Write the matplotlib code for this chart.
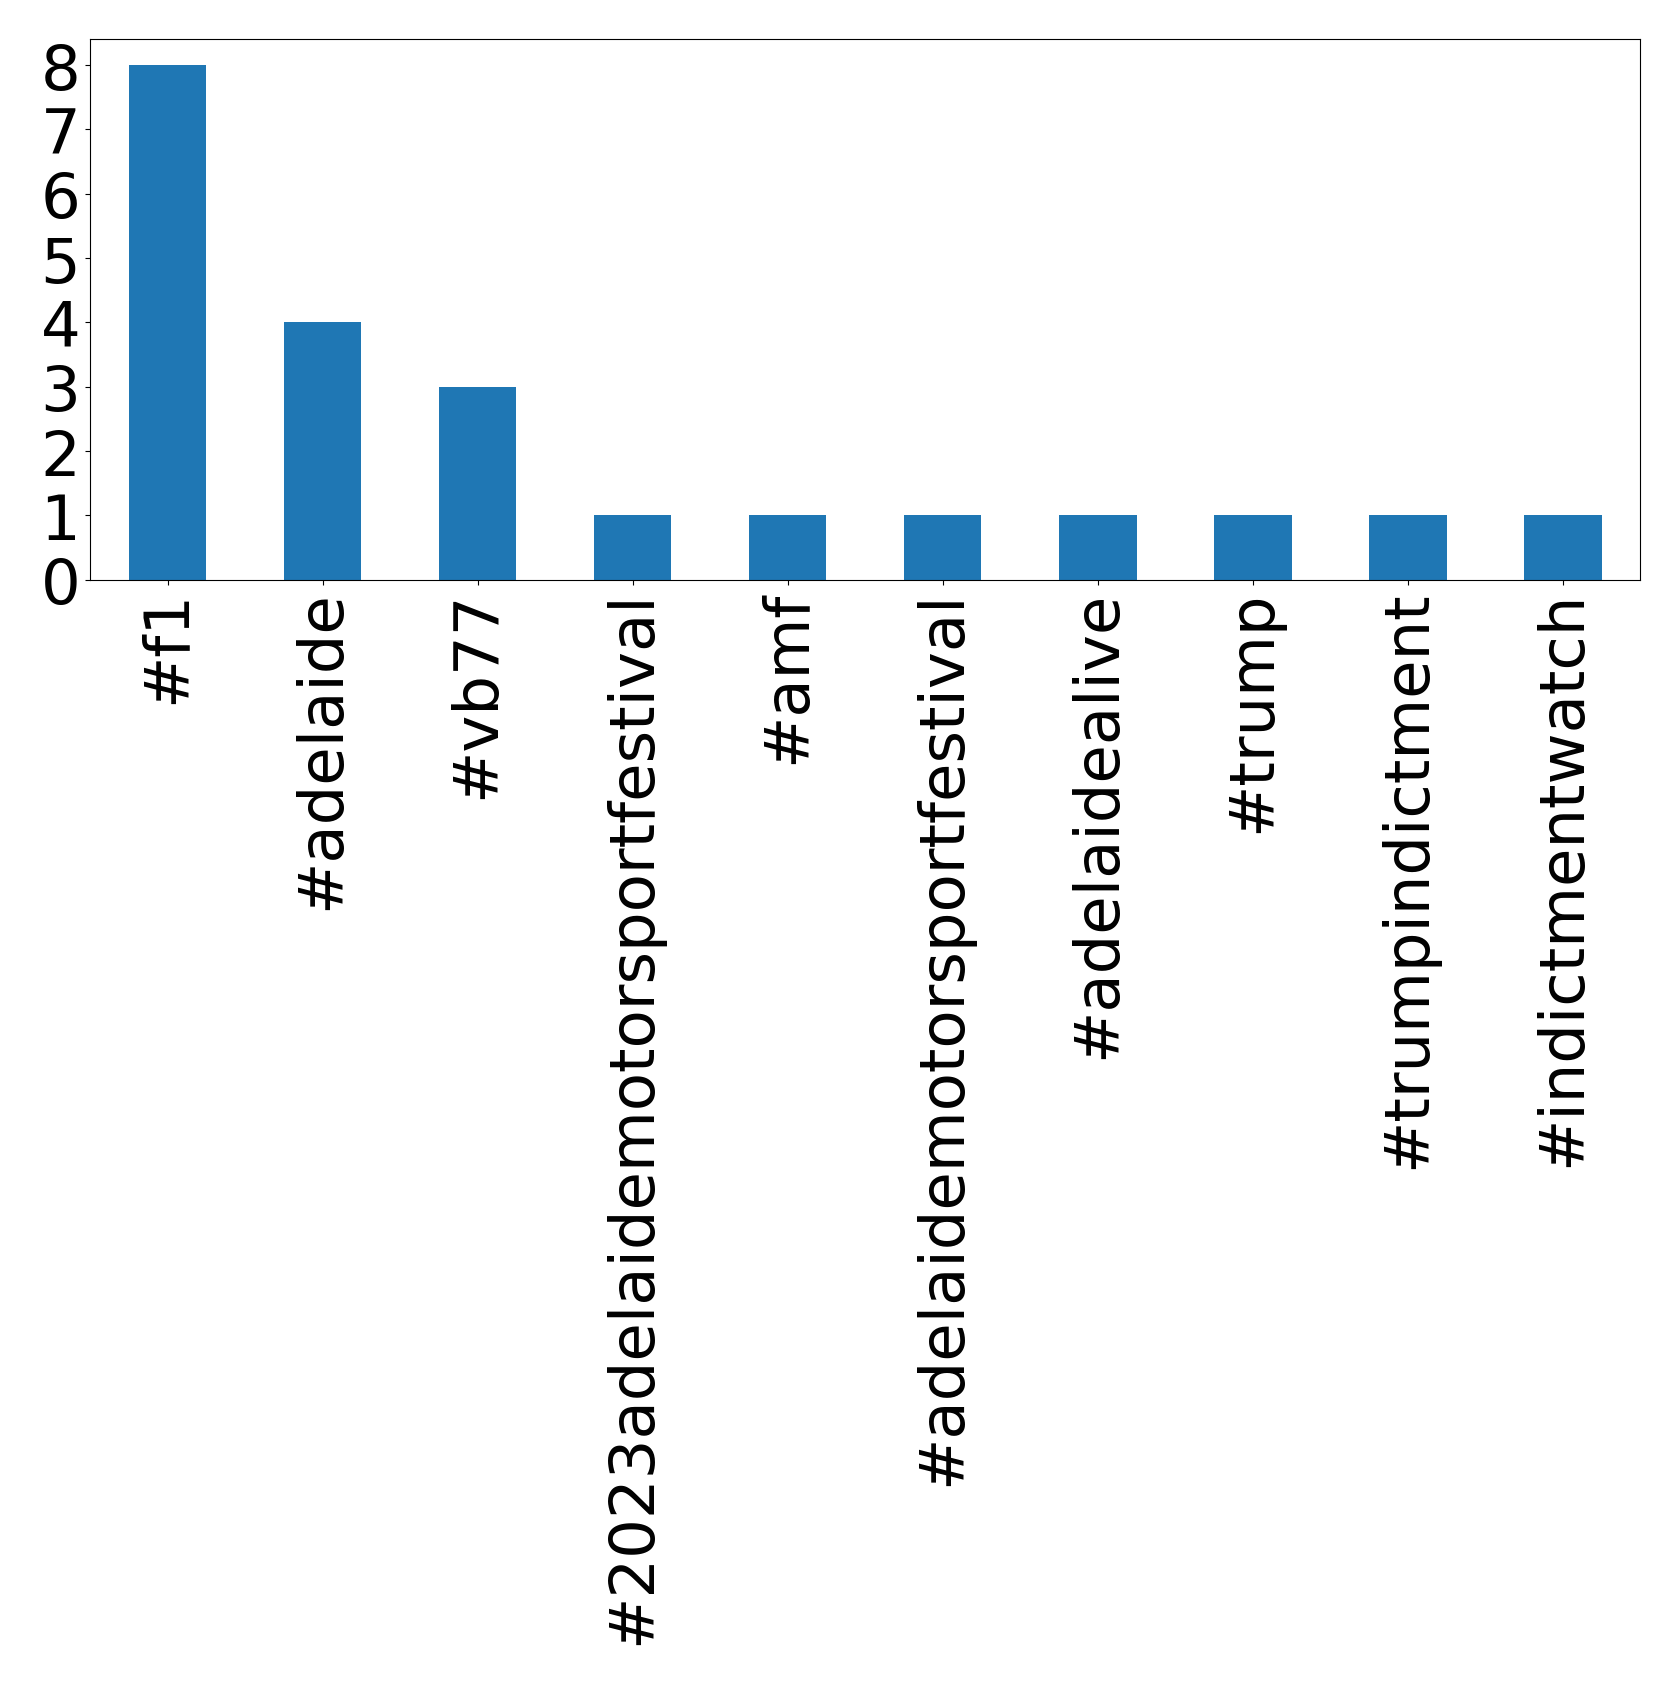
import matplotlib
matplotlib.use("Agg")
import matplotlib.pyplot as plt

tags = ["#f1", "#adelaide", "#vb77", "#2023adelaidemotorsportfestival", "#amf",
        "#adelaidemotorsportfestival", "#adelaidealive", "#trump",
        "#trumpindictment", "#indictmentwatch"]
counts = [8, 4, 3, 1, 1, 1, 1, 1, 1, 1]

fig = plt.figure(figsize=(16.79, 16.83), dpi=100)
ax = fig.add_axes([0.0536, 0.655, 0.9234, 0.321])
x = list(range(len(tags)))
ax.bar(x, counts, width=0.5, color="#1f77b4")
ax.set_xlim(-0.5, len(tags) - 0.5)
ax.set_ylim(0, 8.4)
ax.set_xticks(x)
ax.set_xticklabels(tags, rotation=90)
ax.set_yticks(range(0, 9))
ax.tick_params(labelsize=45)
fig.savefig("out.png", dpi=100)
